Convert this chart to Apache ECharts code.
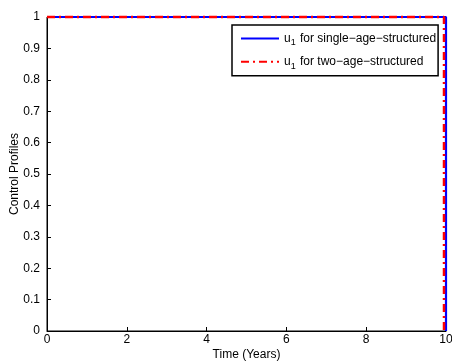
<!DOCTYPE html>
<html><head><meta charset="utf-8">
<script src="https://cdn.jsdelivr.net/npm/echarts@6/dist/echarts.min.js"></script>
<style>html,body{margin:0;padding:0;background:#fff}#c{width:452px;height:363px}</style>
</head><body><div id="c"></div>
<script>
var seriesNames = ['single', 'two'];
var legendLabels = [' for single\u2212age\u2212structured', ' for two\u2212age\u2212structured'];
var singleAge = [[0, 1], [10, 1], [10, 0]];
var twoAge = [[0, 1], [9.95, 1], [9.95, 0]];
var xTicks = [0, 2, 4, 6, 8, 10];
var yTicks = [0, 0.1, 0.2, 0.3, 0.4, 0.5, 0.6, 0.7, 0.8, 0.9, 1];
var FONT = '"Liberation Sans", Arial, sans-serif';
var chart = echarts.init(document.getElementById('c'));
chart.setOption({
  animation: false,
  backgroundColor: '#fff',
  grid: { left: 47, right: 6, top: 17, bottom: 32, show: true, borderColor: '#000', borderWidth: 1,
    containLabel: false, outerBoundsMode: 'none' },
  xAxis: {
    type: 'value', min: 0, max: 10, interval: 2,
    name: 'Time (Years)', nameLocation: 'middle', nameGap: 18, nameMoveOverlap: false,
    nameTextStyle: { fontFamily: FONT, fontSize: 12, color: '#000' },
    axisLine: { lineStyle: { color: '#000', width: 1 } },
    axisTick: { inside: true, length: 4, lineStyle: { color: '#000' } },
    axisLabel: { fontFamily: FONT, fontSize: 12, color: '#000', margin: 3 },
    splitLine: { show: false }
  },
  yAxis: {
    type: 'value', min: 0, max: 1, interval: 0.1,
    name: 'Control Profiles', nameLocation: 'middle', nameGap: 26, nameMoveOverlap: false,
    nameTextStyle: { fontFamily: FONT, fontSize: 12, color: '#000' },
    axisLine: { lineStyle: { color: '#000', width: 1 } },
    axisTick: { inside: true, length: 4, lineStyle: { color: '#000' } },
    axisLabel: { fontFamily: FONT, fontSize: 12, color: '#000', margin: 7,
      formatter: function (v) { return String(Math.round(v * 10) / 10); } },
    splitLine: { show: false }
  },
  legend: {
    orient: 'vertical', left: 232, top: 25,
    backgroundColor: '#fff', borderColor: '#000', borderWidth: 1.5,
    padding: [7, 2, 5, 8], itemGap: 8, itemWidth: 38, itemHeight: 16,
    itemStyle: { opacity: 0 },
    data: seriesNames,
    formatter: function (name) {
      var i = seriesNames.indexOf(name);
      return '{a|u}{s|1}{a|' + legendLabels[i] + '}';
    },
    textStyle: {
      fontFamily: FONT, fontSize: 12, color: '#000',
      rich: {
        a: { fontFamily: FONT, fontSize: 12, color: '#000' },
        s: { fontFamily: FONT, fontSize: 9, color: '#000', padding: [9, 1, 0, 0] }
      }
    }
  },
  series: [
    { name: seriesNames[0], type: 'line', data: singleAge, symbol: 'none', clip: false, z: 3,
      lineStyle: { color: '#0000ff', width: 2.2 }, itemStyle: { color: '#0000ff' } },
    { name: seriesNames[1], type: 'line', data: twoAge, symbol: 'none', clip: false, z: 4,
      lineStyle: { color: '#ff0000', width: 2.5, type: [8, 4, 2, 4] }, itemStyle: { color: '#ff0000' } }
  ]
});
</script></body></html>
